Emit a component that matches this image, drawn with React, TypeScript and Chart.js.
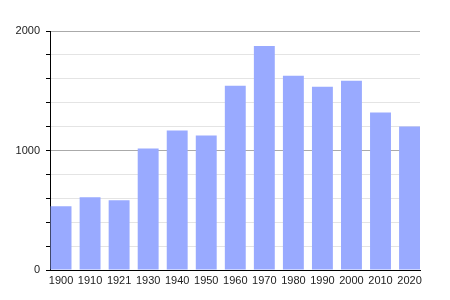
import React, { useEffect, useRef } from "react";
import { Chart, registerables } from "chart.js";

Chart.register(...registerables);

const years = ["1900", "1910", "1921", "1930", "1940", "1950", "1960", "1970", "1980", "1990", "2000", "2010", "2020"];
const population = [533, 608, 583, 1017, 1167, 1125, 1542, 1875, 1625, 1533, 1583, 1317, 1200];
const yMajorTicks = [0, 1000, 2000];

export default function App() {
  const ref = useRef<HTMLCanvasElement | null>(null);
  useEffect(() => {
    if (!ref.current) return;
    const chart = new Chart(ref.current, {
      type: "bar",
      data: {
        labels: years,
        datasets: [
          {
            data: population,
            backgroundColor: "#99aaff",
            borderWidth: 0,
            barPercentage: 0.72,
            categoryPercentage: 1,
          },
        ],
      },
      options: {
        animation: false,
        responsive: false,
        maintainAspectRatio: false,
        layout: { padding: { left: 0, right: 30, top: 31, bottom: 0 } },
        plugins: { legend: { display: false }, tooltip: { enabled: false } },
        scales: {
          x: {
            offset: false,
            grid: { display: false, drawTicks: false },
            border: { display: true, color: "#000", width: 1 },
            ticks: {
              color: "#222",
              font: { family: "Liberation Sans", size: 11 },
              padding: 4,
              maxRotation: 0,
              autoSkip: false,
            },
            afterBuildTicks: (s: any) => {
              s._startValue = -0.38;
              s._valueRange = 12.74;
            },
            afterFit: (s: any) => {
              s.height = 30;
            },
          },
          y: {
            min: 0,
            max: 2000,
            grid: {
              color: (ctx: any) =>
                ctx.tick && yMajorTicks.includes(ctx.tick.value) ? "#aaaaaa" : "#e4e4e4",
              tickColor: "#000",
              tickLength: 4,
              drawTicks: true,
            },
            border: { display: true, color: "#000", width: 1 },
            ticks: {
              stepSize: 200,
              color: "#222",
              font: { family: "Liberation Sans", size: 11 },
              padding: 6,
              callback: (v: any) => (yMajorTicks.includes(Number(v)) ? String(v) : ""),
            },
            afterFit: (s: any) => {
              s.width = 50;
            },
          },
        },
      },
    });
    return () => chart.destroy();
  }, []);
  return (
    <div style={{ position: "absolute", left: 0, top: 0, width: 450, height: 300, background: "#fff" }}>
      <canvas ref={ref} width={450} height={300} style={{ width: 450, height: 300 }} />
    </div>
  );
}
